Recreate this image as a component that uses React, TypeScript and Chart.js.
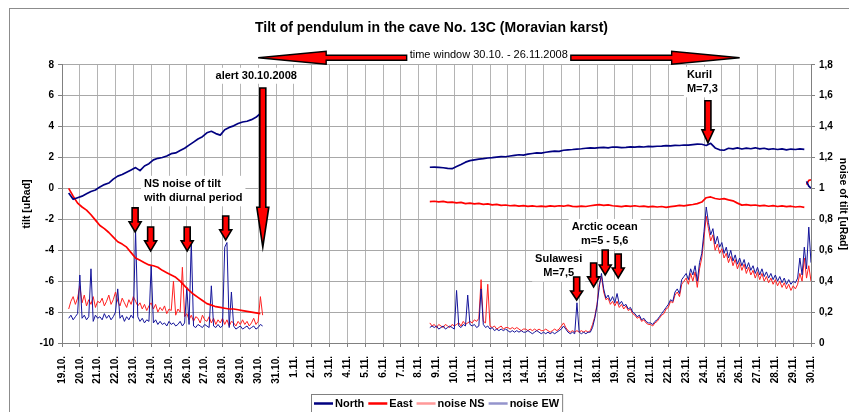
import React, { useEffect, useRef } from 'react';
import { Chart, registerables } from 'chart.js';

Chart.register(...registerables);

const FONT = "'Liberation Sans', Arial, sans-serif";

// ---- tick labels ----
const dayLabels = [
  '19.10.', '20.10.', '21.10.', '22.10.', '23.10.', '24.10.', '25.10.', '26.10.', '27.10.', '28.10.',
  '29.10.', '30.10.', '31.10.', '1.11.', '2.11.', '3.11.', '4.11.', '5.11.', '6.11.', '7.11.',
  '8.11.', '9.11.', '10.11.', '11.11.', '12.11.', '13.11.', '14.11.', '15.11.', '16.11.', '17.11.',
  '18.11.', '19.11.', '20.11.', '21.11.', '22.11.', '23.11.', '24.11.', '25.11.', '26.11.', '27.11.',
  '28.11.', '29.11.', '30.11.',
];

// ---- tilt series (left axis, uRad), sampled every 0.25 day ----
const tiltStep = 0.25;
const tiltLeftStart = 0.375;
const northLeft = [
  -0.3, -0.7, -0.6, -0.5, -0.35, -0.2, -0.1, 0.1, 0.25, 0.35, 0.6, 0.8, 0.9, 1.05, 1.2, 1.35,
  1.15, 1.45, 1.6, 1.85, 1.95, 2.0, 2.1, 2.25, 2.3, 2.45, 2.6, 2.8, 3.0, 3.2, 3.35, 3.6,
  3.7, 3.55, 3.45, 3.8, 3.95, 4.05, 4.2, 4.3, 4.35, 4.45, 4.6, 4.85,
];
const eastLeft = [
  0.0, -0.5, -0.95, -1.2, -1.4, -1.7, -2.05, -2.4, -2.6, -2.85, -3.15, -3.45, -3.6, -3.8, -4.15, -4.5,
  -4.65, -4.8, -4.95, -5.0, -5.1, -5.3, -5.45, -5.6, -5.75, -6.0, -6.3, -6.6, -6.85, -7.05, -7.25, -7.45,
  -7.55, -7.65, -7.7, -7.75, -7.8, -7.8, -7.85, -7.9, -7.95, -8.0, -8.05, -8.1,
];
const tiltRightStart = 20.625;
const northRight = [
  1.37, 1.38, 1.36, 1.34, 1.30, 1.28, 1.42, 1.55, 1.70, 1.80, 1.85, 1.90, 1.93, 1.97, 1.99, 2.03,
  2.06, 2.05, 2.10, 2.14, 2.18, 2.16, 2.22, 2.26, 2.30, 2.28, 2.34, 2.38, 2.42, 2.40, 2.47, 2.50,
  2.52, 2.55, 2.57, 2.60, 2.62, 2.61, 2.64, 2.66, 2.63, 2.68, 2.67, 2.64, 2.66, 2.69, 2.67, 2.70,
  2.68, 2.72, 2.71, 2.73, 2.74, 2.77, 2.76, 2.79, 2.78, 2.81, 2.80, 2.84, 2.87, 2.86, 2.78, 2.92,
  2.62, 2.50, 2.47, 2.60, 2.56, 2.62, 2.55, 2.61, 2.57, 2.63, 2.56, 2.60, 2.53, 2.57, 2.52, 2.56,
  2.50, 2.55, 2.52, 2.56, 2.53,
];
const eastRight = [
  -0.85, -0.83, -0.87, -0.84, -0.9, -0.88, -0.93, -0.9, -0.98, -0.95, -1.0, -0.97, -1.03, -1.0, -1.06, -1.03,
  -1.1, -1.07, -1.12, -1.09, -1.14, -1.11, -1.16, -1.13, -1.17, -1.14, -1.18, -1.13, -1.16, -1.12, -1.15, -1.1,
  -1.16, -1.18, -1.14, -1.17, -1.12, -1.08, -1.05, -1.1, -1.06, -1.12, -1.15, -1.18, -1.13, -1.16, -1.12, -1.17,
  -1.14, -1.19, -1.16, -1.2, -1.17, -1.22, -1.18, -1.14, -1.1, -1.13, -1.08, -1.04, -0.98, -0.88, -0.6, -0.55,
  -0.65, -0.7, -0.66, -0.74, -0.8, -0.95, -1.08, -1.05, -1.1, -1.07, -1.13, -1.1, -1.15, -1.11, -1.17, -1.13,
  -1.18, -1.15, -1.2, -1.17, -1.22,
];
const tiltTailStart = 41.75;
const tiltTailStep = 0.125;
const northTail = [0.45, 0.15, 0.02];
const eastTail = [0.25, 0.52, 0.55];

// ---- noise series (right axis, uRad), sampled every 0.125 day ----
const noiseStep = 0.125;
const noiseLeftStart = 0.375;
const noiseNSLeft = [
  0.22, 0.27, 0.30, 0.25, 0.29, 0.37,
  0.26, 0.31, 0.24, 0.28, 0.25, 0.30, 0.23, 0.27,
  0.26, 0.29, 0.24, 0.27, 0.31, 0.25, 0.28, 0.33,
  0.27, 0.24, 0.29, 0.26, 0.23, 0.28, 0.25, 0.30,
  0.27, 0.24, 0.26, 0.22, 0.25, 0.21, 0.24, 0.26,
  0.22, 0.25, 0.20, 0.23, 0.21, 0.24, 0.19, 0.22,
  0.21, 0.40, 0.18, 0.22, 0.20, 0.49, 0.17, 0.19,
  0.15, 0.18, 0.14, 0.17, 0.16, 0.13, 0.18, 0.15,
  0.14, 0.17, 0.13, 0.16, 0.12, 0.15, 0.13, 0.16,
  0.12, 0.15, 0.11, 0.14, 0.13, 0.11, 0.14, 0.12,
  0.15, 0.12, 0.14, 0.11, 0.13, 0.16, 0.12, 0.14,
  0.30, 0.18,
];
const noiseEWLeft = [
  0.16, 0.18, 0.15, 0.17, 0.19, 0.44,
  0.16, 0.18, 0.15, 0.17, 0.48, 0.14, 0.18, 0.16,
  0.17, 0.15, 0.19, 0.16, 0.18, 0.15, 0.17, 0.20,
  0.35, 0.16, 0.18, 0.14, 0.17, 0.15, 0.18, 0.16,
  0.73, 0.17, 0.14, 0.16, 0.13, 0.15, 0.14, 0.50,
  0.13, 0.15, 0.12, 0.14, 0.12, 0.13, 0.11, 0.14,
  0.12, 0.13, 0.11, 0.12, 0.14, 0.11, 0.13, 0.36,
  0.12, 0.66, 0.11, 0.10, 0.12, 0.11, 0.10, 0.12,
  0.11, 0.10, 0.37, 0.11, 0.10, 0.12, 0.10, 0.11,
  0.62, 0.65, 0.10, 0.33, 0.11, 0.09, 0.10, 0.11,
  0.09, 0.10, 0.11, 0.09, 0.10, 0.11, 0.09, 0.10,
  0.12, 0.11,
];
const noiseRightStart = 20.625;
const noiseNSRight = [
  0.13, 0.11, 0.12,
  0.10, 0.12, 0.11, 0.10, 0.12, 0.11, 0.10, 0.12,
  0.11, 0.12, 0.13, 0.11, 0.14, 0.12, 0.13, 0.14,
  0.13, 0.15, 0.14, 0.16, 0.41, 0.14, 0.13, 0.38,
  0.11, 0.10, 0.11, 0.09, 0.10, 0.11, 0.09, 0.10,
  0.10, 0.09, 0.10, 0.09, 0.10, 0.09, 0.08, 0.09,
  0.09, 0.08, 0.09, 0.08, 0.09, 0.08, 0.09, 0.08,
  0.08, 0.09, 0.08, 0.07, 0.08, 0.09, 0.08, 0.09,
  0.11, 0.13, 0.10, 0.08, 0.07, 0.08, 0.07, 0.08,
  0.07, 0.08, 0.07, 0.08, 0.07, 0.08, 0.12, 0.17,
  0.25, 0.38, 0.43, 0.33, 0.28, 0.29, 0.25, 0.27,
  0.24, 0.27, 0.23, 0.25, 0.22, 0.24, 0.21, 0.22,
  0.19, 0.18, 0.16, 0.17, 0.14, 0.15, 0.13, 0.12,
  0.12, 0.11, 0.13, 0.14, 0.16, 0.18, 0.19, 0.22,
  0.23, 0.27, 0.26, 0.31, 0.33, 0.30, 0.38, 0.40,
  0.42, 0.38, 0.45, 0.40, 0.46, 0.36, 0.48, 0.55,
  0.68, 0.82, 0.74, 0.66, 0.70, 0.60, 0.64, 0.58,
  0.61, 0.55, 0.58, 0.52, 0.56, 0.50, 0.54, 0.48,
  0.52, 0.47, 0.51, 0.45, 0.49, 0.44, 0.47, 0.42,
  0.46, 0.41, 0.45, 0.40, 0.43, 0.39, 0.42, 0.38,
  0.41, 0.37, 0.40, 0.36, 0.39, 0.35, 0.38, 0.34,
  0.37, 0.35, 0.38, 0.45, 0.40, 0.55, 0.42, 0.50,
  0.40, 0.38,
];
const noiseEWRight = [
  0.10, 0.11, 0.10,
  0.11, 0.09, 0.10, 0.11, 0.09, 0.10, 0.11, 0.10,
  0.09, 0.34, 0.11, 0.10, 0.12, 0.11, 0.31, 0.12,
  0.11, 0.12, 0.10, 0.11, 0.35, 0.12, 0.10, 0.11,
  0.09, 0.10, 0.08, 0.09, 0.08, 0.09, 0.08, 0.09,
  0.08, 0.07, 0.08, 0.07, 0.08, 0.07, 0.08, 0.07,
  0.07, 0.08, 0.07, 0.06, 0.07, 0.08, 0.07, 0.06,
  0.07, 0.06, 0.07, 0.06, 0.07, 0.06, 0.07, 0.08,
  0.09, 0.11, 0.09, 0.07, 0.06, 0.07, 0.06, 0.26,
  0.07, 0.06, 0.07, 0.06, 0.07, 0.07, 0.10, 0.16,
  0.24, 0.36, 0.45, 0.35, 0.29, 0.31, 0.27, 0.30,
  0.26, 0.32, 0.25, 0.27, 0.24, 0.25, 0.22, 0.23,
  0.20, 0.19, 0.17, 0.18, 0.15, 0.16, 0.14, 0.13,
  0.13, 0.12, 0.14, 0.15, 0.17, 0.19, 0.21, 0.23,
  0.25, 0.28, 0.27, 0.33, 0.35, 0.32, 0.41, 0.43,
  0.45, 0.41, 0.48, 0.44, 0.50, 0.40, 0.52, 0.58,
  0.72, 0.88, 0.78, 0.70, 0.74, 0.64, 0.69, 0.62,
  0.65, 0.58, 0.62, 0.55, 0.60, 0.53, 0.57, 0.51,
  0.55, 0.50, 0.54, 0.48, 0.52, 0.47, 0.50, 0.45,
  0.49, 0.44, 0.48, 0.43, 0.46, 0.42, 0.45, 0.41,
  0.44, 0.40, 0.43, 0.39, 0.42, 0.38, 0.41, 0.38,
  0.40, 0.39, 0.42, 0.55, 0.44, 0.62, 0.48, 0.75,
  0.52, 0.42,
];

// ---- annotations (day on x axis, value on the left axis) ----
const timeWindow = { from: 11, to: 38, labelDay: 23.93, label: 'time window 30.10. - 26.11.2008' };
const notes = [
  { lines: ['alert 30.10.2008'], day: 10.89, value: 7.29, align: 'center' },
  { lines: ['NS noise of tilt', 'with diurnal period'], day: 4.6, value: 0.3, align: 'left' },
  { lines: ['Kuril', 'M=7,3'], day: 35.04, value: 7.35, align: 'left' },
  { lines: ['Arctic ocean', 'm=5 - 5,6'], day: 30.43, value: -2.49, align: 'center' },
  { lines: ['Sulawesi', 'M=7,5'], day: 27.85, value: -4.56, align: 'center' },
];
const eventArrows = [
  { day: 11.26, from: 6.5, to: -3.8, headLen: 40 },
  { day: 4.1, from: -1.26, to: -2.81, headLen: 10 },
  { day: 4.97, from: -2.49, to: -4.04, headLen: 10 },
  { day: 7.02, from: -2.49, to: -4.04, headLen: 10 },
  { day: 9.18, from: -1.78, to: -3.33, headLen: 10 },
  { day: 28.86, from: -5.73, to: -7.22, headLen: 9 },
  { day: 29.81, from: -4.82, to: -6.37, headLen: 10 },
  { day: 30.46, from: -3.98, to: -5.6, headLen: 10 },
  { day: 31.19, from: -4.24, to: -5.79, headLen: 10 },
  { day: 36.22, from: 5.67, to: 2.95, headLen: 13 },
];

type Pt = { x: number; y: number | null };
function seg(start: number, step: number, vals: number[]): Pt[] {
  return vals.map((v, i) => ({ x: start + i * step, y: v }));
}
function joinSegs(...segs: Pt[][]): Pt[] {
  const out: Pt[] = [];
  segs.forEach((s, i) => {
    if (i > 0 && out.length && s.length) {
      out.push({ x: (out[out.length - 1].x + s[0].x) / 2, y: null });
    }
    out.push(...s);
  });
  return out;
}

function downArrow(ctx: CanvasRenderingContext2D, x: number, yTop: number, yTip: number, headLen: number) {
  const sw = 6, hw = 12;
  ctx.beginPath();
  ctx.moveTo(x - sw / 2, yTop);
  ctx.lineTo(x + sw / 2, yTop);
  ctx.lineTo(x + sw / 2, yTip - headLen);
  ctx.lineTo(x + hw / 2, yTip - headLen);
  ctx.lineTo(x, yTip);
  ctx.lineTo(x - hw / 2, yTip - headLen);
  ctx.lineTo(x - sw / 2, yTip - headLen);
  ctx.closePath();
  ctx.fillStyle = '#ff0000';
  ctx.fill();
  ctx.strokeStyle = '#000';
  ctx.lineWidth = 1.6;
  ctx.lineJoin = 'miter';
  ctx.stroke();
}

function hArrow(ctx: CanvasRenderingContext2D, tipX: number, tailX: number, y: number) {
  const sh = 5, hh = 13, hl = 68;
  const dir = Math.sign(tailX - tipX);
  const baseX = tipX + dir * hl;
  ctx.beginPath();
  ctx.moveTo(tipX, y);
  ctx.lineTo(baseX, y - hh / 2);
  ctx.lineTo(baseX, y - sh / 2);
  ctx.lineTo(tailX, y - sh / 2);
  ctx.lineTo(tailX, y + sh / 2);
  ctx.lineTo(baseX, y + sh / 2);
  ctx.lineTo(baseX, y + hh / 2);
  ctx.closePath();
  ctx.fillStyle = '#ff0000';
  ctx.fill();
  ctx.strokeStyle = '#000';
  ctx.lineWidth = 1.4;
  ctx.stroke();
}

const decorPlugin = {
  id: 'decor',
  beforeDraw(chart: any) {
    const { ctx, width, height } = chart;
    ctx.save();
    ctx.fillStyle = '#fff';
    ctx.fillRect(0, 0, width, height);
    ctx.strokeStyle = '#8c8c8c';
    ctx.lineWidth = 1;
    ctx.strokeRect(9.5, 8.5, width, height);
    ctx.restore();
  },
  afterDatasetsDraw(chart: any) {
    const { ctx, scales } = chart;
    const xs = scales.x;
    const ys = scales.y;
    const LINE = 14.5;
    ctx.save();
    ctx.font = `bold 11px ${FONT}`;
    ctx.textBaseline = 'middle';
    for (const n of notes) {
      const x = xs.getPixelForValue(n.day);
      const y0 = ys.getPixelForValue(n.value);
      const maxW = Math.max(...n.lines.map((l) => ctx.measureText(l).width));
      const left = n.align === 'left' ? x : x - maxW / 2;
      ctx.fillStyle = '#fff';
      ctx.fillRect(left - 3, y0 - 8, maxW + 6, (n.lines.length - 1) * LINE + 16);
      ctx.fillStyle = '#000';
      ctx.textAlign = n.align as CanvasTextAlign;
      n.lines.forEach((l, i) => ctx.fillText(l, x, y0 + i * LINE));
    }
    for (const a of eventArrows) {
      downArrow(ctx, xs.getPixelForValue(a.day), ys.getPixelForValue(a.from), ys.getPixelForValue(a.to), a.headLen);
    }
    ctx.restore();
  },
  afterDraw(chart: any) {
    const { ctx, scales, chartArea } = chart;
    const xs = scales.x;
    ctx.save();
    // time window
    const y = chartArea.top - 7;
    ctx.font = `11px ${FONT}`;
    ctx.textBaseline = 'middle';
    ctx.textAlign = 'center';
    const xc = xs.getPixelForValue(timeWindow.labelDay);
    const w = ctx.measureText(timeWindow.label).width;
    ctx.fillStyle = '#000';
    ctx.fillText(timeWindow.label, xc, y - 3);
    hArrow(ctx, xs.getPixelForValue(timeWindow.from), xc - w / 2 - 3, y);
    hArrow(ctx, xs.getPixelForValue(timeWindow.to), xc + w / 2 + 3, y);

    // legend
    ctx.font = `bold 11px ${FONT}`;
    ctx.textAlign = 'left';
    const items = chart.data.datasets.map((d: any) => ({ text: d.label, color: d.legendColor || d.borderColor }));
    const lineLen = 19, gap = 2, itemGap = 4, pad = 3;
    const widths = items.map((it: any) => ctx.measureText(it.text).width);
    let total = pad * 2 + itemGap * (items.length - 1);
    widths.forEach((tw: number) => (total += lineLen + gap + tw));
    const cx = (chartArea.left + chartArea.right) / 2;
    let lx = Math.round(cx - total / 2);
    const top = chart.height - 18;
    ctx.strokeStyle = '#808080';
    ctx.lineWidth = 1;
    ctx.strokeRect(lx + 0.5, top + 0.5, total, 30);
    const ly = top + 9.5;
    lx += pad;
    items.forEach((it: any, i: number) => {
      ctx.strokeStyle = it.color;
      ctx.lineWidth = 2.5;
      ctx.beginPath();
      ctx.moveTo(lx, ly);
      ctx.lineTo(lx + lineLen, ly);
      ctx.stroke();
      ctx.fillStyle = '#000';
      ctx.fillText(it.text, lx + lineLen + gap, ly);
      lx += lineLen + gap + widths[i] + itemGap;
    });
    ctx.restore();
  },
};

export default function App() {
  const ref = useRef<HTMLCanvasElement>(null);
  useEffect(() => {
    if (!ref.current) return;
    const tickFont = { family: FONT, size: 10, weight: 'bold' as const };
    const titleFont = { family: FONT, size: 10.5, weight: 'bold' as const };
    const chart = new Chart(ref.current, {
      type: 'line',
      data: {
        datasets: [
          {
            label: 'North',
            data: joinSegs(seg(tiltLeftStart, tiltStep, northLeft), seg(tiltRightStart, tiltStep, northRight), seg(tiltTailStart, tiltTailStep, northTail)),
            borderColor: '#000080',
            borderWidth: 1.7,
            yAxisID: 'y',
            order: 1,
          },
          {
            label: 'East',
            data: joinSegs(seg(tiltLeftStart, tiltStep, eastLeft), seg(tiltRightStart, tiltStep, eastRight), seg(tiltTailStart, tiltTailStep, eastTail)),
            borderColor: '#ff0000',
            borderWidth: 1.7,
            yAxisID: 'y',
            order: 2,
          },
          {
            label: 'noise NS',
            data: joinSegs(seg(noiseLeftStart, noiseStep, noiseNSLeft), seg(noiseRightStart, noiseStep, noiseNSRight)),
            borderColor: '#ff2020',
            legendColor: '#ff9999',
            borderWidth: 1,
            yAxisID: 'y2',
            order: 4,
          } as any,
          {
            label: 'noise EW',
            data: joinSegs(seg(noiseLeftStart, noiseStep, noiseEWLeft), seg(noiseRightStart, noiseStep, noiseEWRight)),
            borderColor: '#14149a',
            legendColor: '#9494cc',
            borderWidth: 1,
            yAxisID: 'y2',
            order: 3,
          } as any,
        ],
      },
      options: {
        responsive: false,
        animation: false,
        devicePixelRatio: 1,
        spanGaps: false,
        elements: { point: { radius: 0 }, line: { tension: 0, borderJoinStyle: 'round' } },
        layout: { padding: { left: 14, right: 0, top: 0, bottom: 14 } },
        plugins: {
          legend: { display: false },
          tooltip: { enabled: false },
          title: {
            display: true,
            text: 'Tilt of pendulum in the cave No. 13C (Moravian karst)',
            color: '#000',
            font: { family: FONT, size: 14, weight: 'bold' },
            padding: { top: 20, bottom: 28 },
          },
        },
        scales: {
          x: {
            type: 'linear',
            min: 0,
            max: 42,
            ticks: {
              stepSize: 1,
              maxTicksLimit: 100,
              autoSkip: false,
              minRotation: 90,
              maxRotation: 90,
              padding: 9,
              color: '#000',
              font: tickFont,
              callback: (v: any) => dayLabels[Math.round(Number(v))] ?? '',
            },
            grid: { color: '#b4b4b4', tickLength: 4, tickColor: '#808080' },
            border: { color: '#808080' },
            afterFit: (s: any) => { s.height = 55; },
          },
          y: {
            type: 'linear',
            position: 'left',
            min: -10,
            max: 8,
            ticks: { stepSize: 2, padding: 4, color: '#000', font: tickFont },
            grid: { color: '#a8a8a8', tickLength: 4, tickColor: '#808080' },
            border: { color: '#808080' },
            title: { display: true, text: 'tilt [uRad]', color: '#000', font: titleFont, padding: { top: 7, bottom: 0 } },
            afterFit: (s: any) => { s.width = 48; },
          },
          y2: {
            type: 'linear',
            position: 'right',
            min: 0,
            max: 1.8,
            ticks: {
              stepSize: 0.2,
              padding: 4,
              color: '#000',
              font: tickFont,
              callback: (v: any) => String(Number(Number(v).toFixed(1))).replace('.', ','),
            },
            grid: { drawOnChartArea: false, tickLength: 4, tickColor: '#808080' },
            border: { color: '#808080' },
            title: { display: true, text: 'noise of tilt [uRad]', color: '#000', font: titleFont, padding: { top: 0, bottom: 0 } },
            afterFit: (s: any) => { s.width = 38; },
          },
        },
      },
      plugins: [decorPlugin],
    } as any);
    return () => chart.destroy();
  }, []);
  return (
    <div style={{ position: 'fixed', left: 0, top: 0, width: 849, height: 412, background: '#fff' }}>
      <canvas ref={ref} width={849} height={412} style={{ display: 'block', width: 849, height: 412 }} />
    </div>
  );
}
